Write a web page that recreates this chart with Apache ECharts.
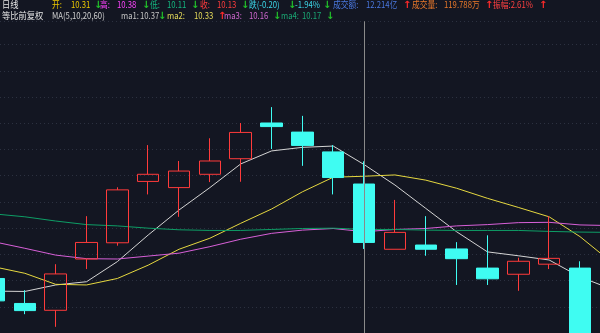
<!DOCTYPE html>
<html>
<head>
<meta charset="utf-8">
<script src="https://cdn.jsdelivr.net/npm/echarts@6/dist/echarts.min.js"></script>
<style>
html,body{margin:0;padding:0;background:#131622;}
#c{width:600px;height:333px;}
</style>
</head>
<body>
<div id="c"></div>
<script>
// ---- data ----
var categories = ['1','2','3','4','5','6','7','8','9','10','11','12','13','14','15','16','17','18','19','20','21'];
var openV  = [10.019, 9.942, 9.921, 10.079, 10.129, 10.318, 10.299, 10.340, 10.388, 10.498, 10.470, 10.409, 10.31, 10.109, 10.122, 10.110, 10.051, 10.032, 10.063, 10.051, 9.80];
var closeV = [9.950, 9.920, 10.033, 10.130, 10.292, 10.340, 10.350, 10.381, 10.469, 10.487, 10.429, 10.33, 10.13, 10.161, 10.109, 10.080, 10.018, 10.072, 10.081, 9.80, 9.84];
var lowV   = [9.937, 9.909, 9.870, 10.048, 10.120, 10.278, 10.209, 10.316, 10.317, 10.418, 10.366, 10.278, 10.11, 10.109, 10.089, 9.999, 9.999, 9.981, 10.048, 9.78, 9.77];
var highV  = [10.030, 9.983, 10.063, 10.211, 10.300, 10.430, 10.381, 10.451, 10.498, 10.547, 10.520, 10.430, 10.38, 10.261, 10.211, 10.131, 10.152, 10.083, 10.211, 10.072, 9.88];
var ma5  = [9.980, 9.979, 9.999, 10.009, 10.071, 10.153, 10.230, 10.299, 10.372, 10.412, 10.423, 10.427, 10.37, 10.307, 10.235, 10.163, 10.101, 10.089, 10.076, 10.024, 9.987];
var ma10 = [10.055, 10.035, 10.001, 9.999, 10.019, 10.060, 10.109, 10.143, 10.189, 10.233, 10.286, 10.331, 10.334, 10.338, 10.322, 10.297, 10.266, 10.238, 10.209, 10.148, 10.071];
var ma20 = [10.132, 10.112, 10.091, 10.080, 10.079, 10.088, 10.097, 10.117, 10.140, 10.158, 10.168, 10.173, 10.163, 10.170, 10.173, 10.181, 10.185, 10.191, 10.192, 10.184, 10.182];
var ma60 = [10.218, 10.209, 10.196, 10.185, 10.181, 10.174, 10.169, 10.167, 10.167, 10.170, 10.173, 10.174, 10.17, 10.170, 10.168, 10.167, 10.167, 10.167, 10.164, 10.162, 10.161];
var focusIndex = 12;
var turnoverText = '12.214亿';
var volumeText = '119.788万';
var periodText = '日线';
var adjustText = '等比前复权';
var maTitle = 'MA(5,10,20,60)';

// ---- build ----
var kData = categories.map(function (c, k) { return [k, openV[k], closeV[k], lowV[k], highV[k]]; });
function pairs(arr) { return arr.map(function (v, k) { return [k, v]; }); }
var i = focusIndex;
var prevClose = closeV[i - 1];
var chg = closeV[i] - prevClose;
var pct = chg / prevClose * 100;
var amp = (highV[i] - lowV[i]) / prevClose * 100;
function arr(cur, prev) { return cur >= prev ? '↑' : '↓'; }
function arrCol(a) { return a === '↑' ? '#ff2a2a' : '#22c02a'; }

var UP = '#ff3b3b', DOWN = '#3ffcf2';
var FONT = '9px "Noto Sans CJK SC", sans-serif';
var AFONT = 'bold 10px "DejaVu Sans", sans-serif';

function t(x, y, text, color, sx) {
  return { type: 'text', x: x, y: y, silent: true, scaleX: sx || 0.86,
    style: { text: text, fill: color, font: FONT, textVerticalAlign: 'middle' } };
}
function a(x, y, dir) {
  return { type: 'text', x: x, y: y, silent: true,
    style: { text: dir, fill: arrCol(dir), font: AFONT, textVerticalAlign: 'middle' } };
}

var y1 = 5, y2 = 16;
var dOpen = arr(openV[i], openV[i-1]), dHigh = arr(highV[i], highV[i-1]), dLow = arr(lowV[i], lowV[i-1]), dClose = arr(closeV[i], closeV[i-1]);
var texts = [
  t(2, y1, periodText, '#e6e6e6', 0.92),
  t(52, y1, '开:', '#ecc800'), t(71, y1, openV[i].toFixed(2), '#ecc800'), a(94, y1, dOpen),
  t(100, y1, '高:', '#ff44ff'), t(117, y1, highV[i].toFixed(2), '#ff44ff'), a(142, y1, dHigh),
  t(150, y1, '低:', '#14b880'), t(167, y1, lowV[i].toFixed(2), '#14b880'), a(191, y1, dLow),
  t(200, y1, '收:', '#ff3c3c'), t(217, y1, closeV[i].toFixed(2), '#ff3c3c'), a(241, y1, dClose),
  t(249, y1, (chg < 0 ? '跌' : '涨') + '(' + chg.toFixed(2) + ')', '#3cd8ea'), a(288, y1, chg < 0 ? '↓' : '↑'),
  t(295, y1, pct.toFixed(2) + '%', '#3cd8ea'), a(323, y1, chg < 0 ? '↓' : '↑'),
  t(333, y1, '成交额:', '#4a78e0'), t(366, y1, turnoverText, '#4a78e0'), a(403, y1, '↑'),
  t(412, y1, '成交量:', '#e8782a'), t(444, y1, volumeText, '#e8782a'), a(485, y1, '↑'),
  t(493, y1, '振幅:' + amp.toFixed(2) + '%', '#ff4040'), a(539, y1, '↑'),

  t(2, y2, adjustText, '#e6e6e6', 0.92),
  t(52, y2, maTitle, '#d0d0d0'),
  t(121, y2, 'ma1:', '#c4c4c4'), t(140, y2, ma5[i].toFixed(2), '#c4c4c4'), a(158, y2, arr(ma5[i], ma5[i-1])),
  t(167, y2, 'ma2:', '#e6dc5a'), t(194, y2, ma10[i].toFixed(2), '#e6dc5a'), a(218, y2, arr(ma10[i], ma10[i-1])),
  t(224, y2, 'ma3:', '#d068d0'), t(249, y2, ma20[i].toFixed(2), '#d068d0'), a(273, y2, arr(ma20[i], ma20[i-1])),
  t(281, y2, 'ma4:', '#1aa874'), t(302, y2, ma60[i].toFixed(2), '#1aa874'), a(326, y2, arr(ma60[i], ma60[i-1]))
];

function ma(name, data, color) {
  return { name: name, type: 'line', data: pairs(data), smooth: false, showSymbol: false, symbol: 'none',
    silent: true, animation: false, lineStyle: { color: color, width: 1 }, z: 3 };
}

var chart = echarts.init(document.getElementById('c'), null, { width: 600, height: 333, renderer: 'canvas' });
chart.setOption({
  backgroundColor: '#131622',
  animation: false,
  grid: { left: 0, right: 0, top: 21.3, bottom: 0, containLabel: false },
  xAxis: { type: 'value', min: 0.1946, max: 19.6496, scale: true,
    axisLine: { show: false }, axisTick: { show: false }, axisLabel: { show: false }, splitLine: { show: false } },
  yAxis: [
    { type: 'value', min: 9.851, max: 10.8114, show: true, axisLine: { show: false }, axisTick: { show: false },
      axisLabel: { show: false }, splitLine: { show: false } },
    { type: 'value', min: 0.103, max: 11.99, interval: 1, axisLine: { show: false }, axisTick: { show: false },
      axisLabel: { show: false }, splitLine: { show: true, lineStyle: { color: '#2c3140', type: [1, 3], width: 1 } } }
  ],
  series: [
    { type: 'candlestick', data: kData, encode: { x: 0, y: [1, 2, 3, 4] }, barWidth: 22, z: 4, clip: true,
      itemStyle: { color: 'transparent', color0: DOWN, borderColor: UP, borderColor0: DOWN, borderWidth: 1 },
      markLine: { silent: true, symbol: ['none', 'none'], label: { show: false },
        lineStyle: { color: '#8a8a8a', width: 1, type: 'solid' },
        data: [{ xAxis: focusIndex }] } },
    ma('MA5', ma5, '#d4d4d4'),
    ma('MA10', ma10, '#e6d840'),
    ma('MA20', ma20, '#d860d8'),
    ma('MA60', ma60, '#0e9e66')
  ],
  graphic: texts
});
</script>
</body>
</html>
